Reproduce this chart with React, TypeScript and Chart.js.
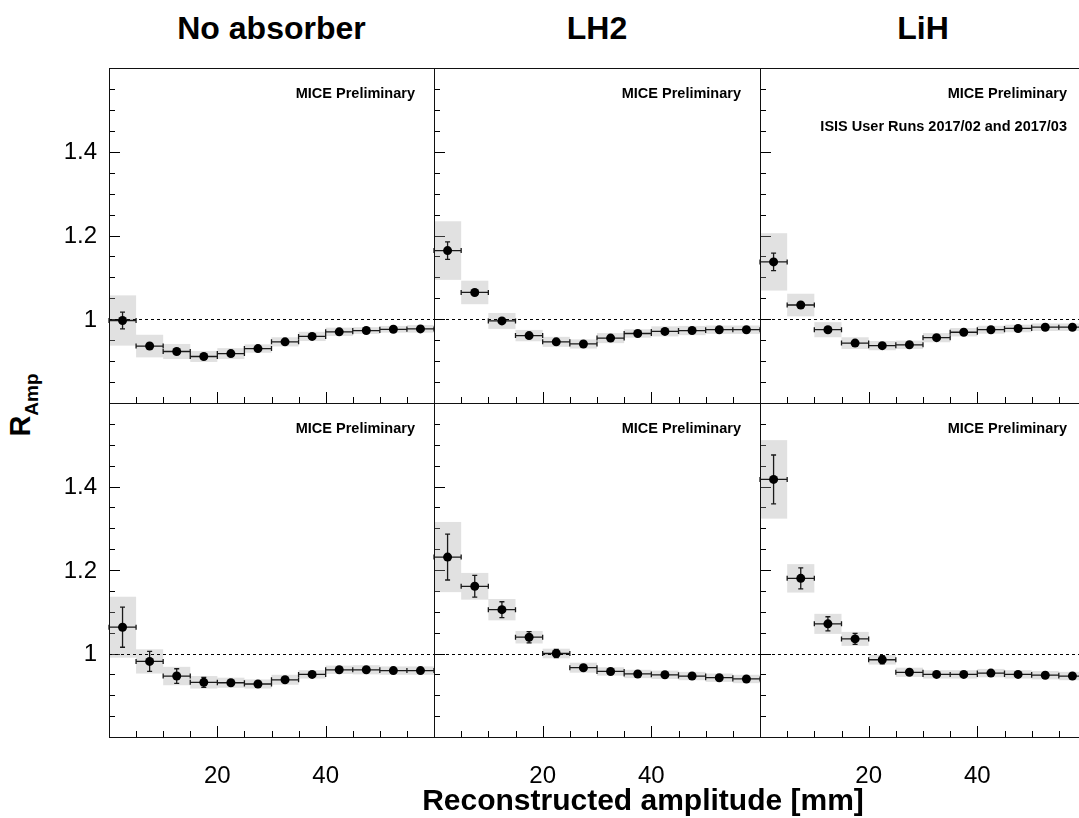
import React, { useEffect, useRef } from 'react';
import { Chart, registerables } from 'chart.js';

Chart.register(...registerables);

// ---------- data ----------
const binCenters = [2.5, 7.5, 12.5, 17.5, 22.5, 27.5, 32.5, 37.5, 42.5, 47.5, 52.5, 57.5];
const binHalfWidth = 2.5;

const columnTitles = ['No absorber', 'LH2', 'LiH'];

// top row
const noAbsTop = [0.997, 0.936, 0.923, 0.911, 0.918, 0.930, 0.946, 0.959, 0.970, 0.973, 0.976, 0.977];
const noAbsTopStat = [0.020, 0.005, 0.004, 0.004, 0.004, 0.004, 0.003, 0.003, 0.003, 0.003, 0.003, 0.003];
const noAbsTopSys = [0.060, 0.027, 0.018, 0.013, 0.013, 0.010, 0.011, 0.011, 0.010, 0.008, 0.008, 0.009];

const lh2Top = [1.164, 1.064, 0.996, 0.961, 0.946, 0.941, 0.955, 0.966, 0.971, 0.973, 0.975, 0.975];
const lh2TopStat = [0.021, 0.006, 0.004, 0.004, 0.004, 0.003, 0.003, 0.003, 0.003, 0.003, 0.003, 0.003];
const lh2TopSys = [0.070, 0.028, 0.019, 0.0135, 0.012, 0.011, 0.012, 0.010, 0.012, 0.011, 0.010, 0.010];

const lihTop = [1.137, 1.034, 0.975, 0.943, 0.937, 0.939, 0.956, 0.969, 0.975, 0.978, 0.981, 0.981];
const lihTopStat = [0.021, 0.006, 0.004, 0.004, 0.004, 0.003, 0.003, 0.003, 0.003, 0.003, 0.003, 0.003];
const lihTopSys = [0.0685, 0.027, 0.018, 0.014, 0.011, 0.010, 0.011, 0.010, 0.0095, 0.009, 0.009, 0.009];

// bottom row
const noAbsBot = [1.063, 0.981, 0.946, 0.931, 0.930, 0.927, 0.937, 0.950, 0.961, 0.961, 0.959, 0.959];
const noAbsBotStat = [0.048, 0.024, 0.0175, 0.012, 0.008, 0.007, 0.006, 0.005, 0.005, 0.005, 0.005, 0.005];
const noAbsBotSys = [0.073, 0.029, 0.022, 0.015, 0.012, 0.011, 0.012, 0.010, 0.010, 0.011, 0.010, 0.010];

const lh2Bot = [1.231, 1.161, 1.105, 1.039, 1.000, 0.966, 0.957, 0.951, 0.949, 0.946, 0.942, 0.939];
const lh2BotStat = [0.055, 0.026, 0.019, 0.0135, 0.010, 0.007, 0.006, 0.005, 0.005, 0.005, 0.005, 0.005];
const lh2BotSys = [0.084, 0.032, 0.0255, 0.015, 0.0115, 0.012, 0.010, 0.010, 0.010, 0.010, 0.010, 0.010];

const lihBot = [1.417, 1.180, 1.071, 1.035, 0.985, 0.955, 0.950, 0.950, 0.953, 0.950, 0.948, 0.946];
const lihBotStat = [0.0585, 0.025, 0.017, 0.013, 0.010, 0.007, 0.006, 0.005, 0.005, 0.005, 0.005, 0.005];
const lihBotSys = [0.094, 0.034, 0.024, 0.0167, 0.0115, 0.011, 0.010, 0.010, 0.010, 0.010, 0.010, 0.010];

// axes
const xMin = 0;
const xMax = 60;
const yMin = 0.8;
const yMax = 1.6;
const xMajorTicks = [20, 40];
const xMajorLabels = ['20', '40'];
const xMinorTicks = [5, 10, 15, 25, 30, 35, 45, 50, 55];
const yMajorTicks = [1.0, 1.2, 1.4];
const yMajorLabels = ['1', '1.2', '1.4'];
const yMinorTicks = [0.85, 0.9, 0.95, 1.05, 1.1, 1.15, 1.25, 1.3, 1.35, 1.45, 1.5, 1.55];
const referenceLevel = 1.0;

const watermark = 'MICE Preliminary';
const runText = 'ISIS User Runs 2017/02 and 2017/03';
const xTitle = 'Reconstructed amplitude [mm]';

type PanelDef = {
  row: number;
  col: number;
  values: number[];
  stat: number[];
  sys: number[];
  extra?: string;
};

const panels: PanelDef[] = [
  { row: 0, col: 0, values: noAbsTop, stat: noAbsTopStat, sys: noAbsTopSys },
  { row: 0, col: 1, values: lh2Top, stat: lh2TopStat, sys: lh2TopSys },
  { row: 0, col: 2, values: lihTop, stat: lihTopStat, sys: lihTopSys, extra: runText },
  { row: 1, col: 0, values: noAbsBot, stat: noAbsBotStat, sys: noAbsBotSys },
  { row: 1, col: 1, values: lh2Bot, stat: lh2BotStat, sys: lh2BotSys },
  { row: 1, col: 2, values: lihBot, stat: lihBotStat, sys: lihBotSys },
];

// ---------- layout ----------
const COL_X = [109, 434, 760];
const COL_W = [325, 326, 326];
const ROW_Y = [68, 403];
const ROW_H = [335, 334];
const PAD = { left: 60, top: 10, right: 10, bottom: 60 };
const FONT = '"Liberation Sans", Arial, Helvetica, sans-serif';

const panelPlugin = {
  id: 'panelDecor',
  beforeDatasetsDraw(chart: any, _args: any, opts: any) {
    const p: PanelDef = opts.panel;
    const { ctx, chartArea: a } = chart;
    const x = chart.scales.x;
    const y = chart.scales.y;
    ctx.save();
    // ticks (inside the frame, left and bottom)
    ctx.strokeStyle = '#000';
    ctx.lineWidth = 1;
    ctx.beginPath();
    yMajorTicks.forEach((v) => {
      const py = Math.round(y.getPixelForValue(v)) + 0.5;
      ctx.moveTo(a.left, py);
      ctx.lineTo(a.left + 11, py);
    });
    yMinorTicks.forEach((v) => {
      const py = Math.round(y.getPixelForValue(v)) + 0.5;
      ctx.moveTo(a.left, py);
      ctx.lineTo(a.left + 6, py);
    });
    xMajorTicks.forEach((v) => {
      const px = Math.round(x.getPixelForValue(v)) + 0.5;
      ctx.moveTo(px, a.bottom);
      ctx.lineTo(px, a.bottom - 11);
    });
    xMinorTicks.forEach((v) => {
      const px = Math.round(x.getPixelForValue(v)) + 0.5;
      ctx.moveTo(px, a.bottom);
      ctx.lineTo(px, a.bottom - 6);
    });
    ctx.stroke();

    // systematic boxes
    ctx.fillStyle = 'rgba(165,165,165,0.33)';
    p.values.forEach((v, i) => {
      const x0 = x.getPixelForValue(binCenters[i] - binHalfWidth);
      const x1 = x.getPixelForValue(binCenters[i] + binHalfWidth);
      const y0 = y.getPixelForValue(v + p.sys[i]);
      const y1 = y.getPixelForValue(v - p.sys[i]);
      ctx.fillRect(x0, y0, x1 - x0, y1 - y0);
    });

    // dashed reference line
    const ry = Math.round(y.getPixelForValue(referenceLevel)) + 0.5;
    ctx.setLineDash([3, 3]);
    ctx.strokeStyle = '#000';
    ctx.lineWidth = 1;
    ctx.beginPath();
    ctx.moveTo(a.left, ry);
    ctx.lineTo(a.right, ry);
    ctx.stroke();
    ctx.setLineDash([]);

    // error bars
    ctx.strokeStyle = '#1a1a1a';
    ctx.lineWidth = 1.3;
    ctx.beginPath();
    p.values.forEach((v, i) => {
      const x0 = x.getPixelForValue(binCenters[i] - binHalfWidth);
      const x1 = x.getPixelForValue(binCenters[i] + binHalfWidth);
      const xc = x.getPixelForValue(binCenters[i]);
      const yc = y.getPixelForValue(v);
      const yt = y.getPixelForValue(v + p.stat[i]);
      const yb = y.getPixelForValue(v - p.stat[i]);
      ctx.moveTo(x0, yc);
      ctx.lineTo(x1, yc);
      ctx.moveTo(x0, yc - 2.5);
      ctx.lineTo(x0, yc + 2.5);
      ctx.moveTo(x1, yc - 2.5);
      ctx.lineTo(x1, yc + 2.5);
      if (yb - yt > 8) {
        ctx.moveTo(xc, yt);
        ctx.lineTo(xc, yb);
        ctx.moveTo(xc - 2.5, yt);
        ctx.lineTo(xc + 2.5, yt);
        ctx.moveTo(xc - 2.5, yb);
        ctx.lineTo(xc + 2.5, yb);
      }
    });
    ctx.stroke();
    ctx.restore();
  },
  afterDraw(chart: any, _args: any, opts: any) {
    const p: PanelDef = opts.panel;
    const { ctx, chartArea: a } = chart;
    const x = chart.scales.x;
    const y = chart.scales.y;
    ctx.save();
    // frame
    ctx.strokeStyle = '#111';
    ctx.lineWidth = 1;
    ctx.strokeRect(a.left + 0.5, a.top + 0.5, a.right - a.left, a.bottom - a.top);

    // tick labels
    ctx.fillStyle = '#000';
    ctx.font = `24px ${FONT}`;
    if (p.col === 0) {
      ctx.textAlign = 'right';
      ctx.textBaseline = 'middle';
      yMajorTicks.forEach((v, i) => {
        ctx.fillText(yMajorLabels[i], a.left - 12, y.getPixelForValue(v) + 1);
      });
    }
    if (p.row === 1) {
      ctx.textAlign = 'center';
      ctx.textBaseline = 'middle';
      xMajorTicks.forEach((v, i) => {
        ctx.fillText(xMajorLabels[i], x.getPixelForValue(v), a.bottom + 39);
      });
    }

    // watermark texts
    ctx.font = `bold 14.5px ${FONT}`;
    ctx.textAlign = 'right';
    ctx.textBaseline = 'middle';
    ctx.fillText(watermark, a.right - 19, a.top + 26);
    if (p.extra) ctx.fillText(p.extra, a.right - 19, a.top + 59);
    ctx.restore();
  },
};

function Panel({ panel }: { panel: PanelDef }) {
  const ref = useRef<HTMLCanvasElement | null>(null);
  const w = COL_W[panel.col] + PAD.left + PAD.right;
  const h = ROW_H[panel.row] + PAD.top + PAD.bottom;
  useEffect(() => {
    if (!ref.current) return;
    const chart = new Chart(ref.current, {
      type: 'scatter',
      data: {
        datasets: [
          {
            data: panel.values.map((v, i) => ({ x: binCenters[i], y: v })),
            pointRadius: 4.5,
            pointBackgroundColor: '#000',
            pointBorderColor: '#000',
            pointBorderWidth: 0,
            showLine: false,
          },
        ],
      },
      options: {
        animation: false,
        responsive: false,
        maintainAspectRatio: false,
        devicePixelRatio: 1,
        layout: { padding: PAD },
        plugins: {
          legend: { display: false },
          tooltip: { enabled: false },
          panelDecor: { panel },
        } as any,
        scales: {
          x: { type: 'linear', min: xMin, max: xMax, display: false },
          y: { type: 'linear', min: yMin, max: yMax, display: false },
        },
      },
      plugins: [panelPlugin as any],
    });
    return () => chart.destroy();
  }, []);
  return (
    <canvas
      ref={ref}
      width={w}
      height={h}
      style={{
        position: 'absolute',
        left: COL_X[panel.col] - PAD.left,
        top: ROW_Y[panel.row] - PAD.top,
        width: w,
        height: h,
      }}
    />
  );
}

export default function App() {
  return (
    <div
      style={{
        position: 'absolute',
        left: 0,
        top: 0,
        width: 1079,
        height: 818,
        overflow: 'hidden',
        background: '#fff',
        fontFamily: FONT,
      }}
    >
      {panels.map((p, i) => (
        <Panel key={i} panel={p} />
      ))}
      {columnTitles.map((t, i) => (
        <div
          key={t}
          style={{
            position: 'absolute',
            left: COL_X[i],
            width: COL_W[i],
            top: 8,
            height: 40,
            lineHeight: '40px',
            textAlign: 'center',
            fontWeight: 'bold',
            fontSize: 32,
            color: '#000',
          }}
        >
          {t}
        </div>
      ))}
      <div
        style={{
          position: 'absolute',
          left: 22,
          top: 405,
          transform: 'translate(-50%, -50%) rotate(-90deg)',
          whiteSpace: 'nowrap',
          fontWeight: 'bold',
          fontSize: 29,
          lineHeight: '32px',
          color: '#000',
        }}
      >
        R
        <span style={{ fontSize: 19, position: 'relative', top: 8 }}>Amp</span>
      </div>
      <div
        style={{
          position: 'absolute',
          left: 643,
          top: 782,
          height: 36,
          lineHeight: '36px',
          transform: 'translateX(-50%)',
          whiteSpace: 'nowrap',
          fontWeight: 'bold',
          fontSize: 30,
          color: '#000',
        }}
      >
        {xTitle}
      </div>
    </div>
  );
}
